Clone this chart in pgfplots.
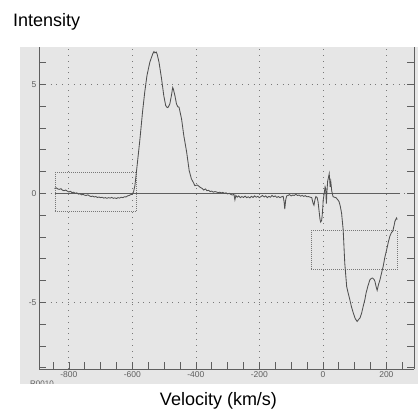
\documentclass[border=0pt]{standalone}
\usepackage{pgfplots}
\pgfplotsset{compat=1.18}
\usepackage{fontspec}
\setmainfont{Liberation Sans}
\definecolor{scan}{RGB}{230,230,230}
\definecolor{ink}{RGB}{80,80,80}
\definecolor{axisink}{RGB}{95,95,95}
\definecolor{dots}{RGB}{120,120,120}
\begin{document}
\begin{tikzpicture}[x=1pt,y=1pt]
\useasboundingbox (0,0) rectangle (418,412);
% scanned sheet
\fill[scan] (20,28) rectangle (418,365);
\begin{scope}
\clip (20,28) rectangle (418,365);
\node[anchor=north west,font=\fontsize{8}{8}\selectfont,text=axisink,inner sep=0pt] at (30,31.5) {R0010};
\end{scope}
\begin{axis}[
 at={(39pt,43pt)},anchor=south west,
 width=375pt,height=322pt,scale only axis,
 xmin=-894,xmax=287,ymin=-8.06,ymax=6.71,
 axis x line*=bottom,axis y line*=box,
 axis line style={axisink,line width=0.7pt},
 xtick={-800,-600,-400,-200,0,200},
 minor xtick={-850,-800,...,250},
 ytick={-5,0,5},
 minor ytick={-8,-7,...,6},
 yticklabel pos=left,
 major tick length=7pt,minor tick length=7pt,
 tick style={axisink,line width=0.6pt},
 tick align=inside,
 grid=major,
 major grid style={dots,line width=0.7pt,dash pattern=on 0.8pt off 5pt},
 /pgf/number format/assume math mode=true,
 tick label style={font=\fontsize{8.5}{9}\selectfont,text=axisink},
 xticklabel style={yshift=1pt},
 yticklabel style={xshift=1pt},
]
% baseline
\addplot[axisink,line width=0.8pt] coordinates {(-845,0) (242,0)};
% boxes
\addplot[dots,line width=0.7pt,dash pattern=on 0.8pt off 1.2pt] coordinates {(-844,-0.83) (-587,-0.83) (-587,0.97) (-844,0.97) (-844,-0.83)};
\addplot[dots,line width=0.7pt,dash pattern=on 0.8pt off 1.2pt] coordinates {(-36,-3.5) (234,-3.5) (234,-1.7) (-36,-1.7) (-36,-3.5)};
% spectrum
\addplot[ink,line width=0.85pt] coordinates {
(-845,0.22) (-840,0.25) (-835,0.2) (-830,0.18) (-825,0.21) (-820,0.14) (-815,0.12)
(-810,0.15) (-805,0.1) (-800,0.06) (-795,0.09) (-790,0.03) (-785,0.05) (-780,0.0)
(-775,0.02) (-770,-0.04) (-765,-0.02) (-760,-0.07) (-755,-0.05) (-750,-0.09) (-745,-0.1)
(-740,-0.07) (-735,-0.12) (-730,-0.15) (-725,-0.13) (-720,-0.17) (-715,-0.15) (-710,-0.19)
(-705,-0.17) (-700,-0.2) (-695,-0.18) (-690,-0.22) (-685,-0.2) (-680,-0.23) (-675,-0.2)
(-670,-0.22) (-665,-0.19) (-660,-0.23) (-655,-0.21) (-650,-0.24) (-645,-0.2) (-640,-0.22)
(-635,-0.18) (-630,-0.2) (-625,-0.16) (-620,-0.17) (-615,-0.12) (-610,-0.1) (-605,-0.06)
(-600,-0.04) (-596,0.08) (-592,0.35) (-585,1.27) (-576,2.5) (-568,3.72) (-561,4.64)
(-554,5.4) (-545,6.01) (-536,6.39) (-532,6.5) (-529,6.44) (-525,6.48) (-522,6.39)
(-516,6.01) (-508,5.25) (-501,4.48) (-495,4.02) (-490,3.93) (-487,3.95) (-482,4.1)
(-477,4.48) (-473,4.85) (-471,4.79) (-466,4.48) (-461,4.1) (-457,3.97) (-453,3.95)
(-445,3.41) (-438,2.65) (-429,1.89) (-421,1.04) (-414,0.66) (-408,0.5) (-403,0.35)
(-395,0.38) (-387,0.28) (-380,0.22) (-375,0.15) (-370,0.2) (-365,0.12) (-360,0.14)
(-355,0.08) (-350,0.1) (-345,0.05) (-340,0.08) (-335,0.06) (-330,0.03) (-325,0.05)
(-320,0.02) (-315,0.04) (-310,0.0) (-305,0.02) (-300,-0.03) (-295,0.0) (-290,-0.05)
(-285,-0.08) (-280,-0.05) (-277,-0.3) (-274,-0.1) (-270,-0.18) (-265,-0.12) (-260,-0.2)
(-255,-0.15) (-250,-0.19) (-245,-0.13) (-240,-0.2) (-235,-0.16) (-230,-0.21) (-225,-0.14)
(-220,-0.19) (-215,-0.12) (-210,-0.18) (-205,-0.14) (-200,-0.2) (-195,-0.15) (-190,-0.1)
(-185,-0.17) (-180,-0.12) (-175,-0.2) (-170,-0.14) (-165,-0.18) (-160,-0.1) (-155,-0.16)
(-150,-0.12) (-145,-0.19) (-140,-0.15) (-135,-0.2) (-130,-0.16) (-125,-0.14) (-122,-0.4)
(-120,-0.72) (-117,-0.3) (-114,-0.12) (-110,-0.1) (-105,-0.06) (-100,-0.12) (-95,-0.08)
(-90,-0.1) (-85,-0.05) (-80,-0.1) (-75,-0.08) (-70,-0.13) (-65,-0.1) (-60,-0.14)
(-55,-0.11) (-50,-0.16) (-45,-0.15) (-40,-0.18) (-35,-0.2) (-31,-0.45) (-28,-0.55)
(-25,-0.3) (-22,-0.15) (-18,-0.2) (-15,-0.4) (-12,-0.8) (-9,-1.2) (-7,-1.32) (-4,-1.25)
(-2,-1.0) (0,-0.6) (1,-0.32) (4,-0.03) (7,0.3) (9,0.2) (11,-0.47) (13,0.1) (15,0.55)
(18,0.75) (20,0.9) (22,0.5) (23,0.3) (25,0.53) (28,0.1) (32,-0.15) (36,-0.18) (41,-0.2)
(46,-0.28) (51,-0.38) (55,-0.6) (59,-0.92) (64,-1.68) (69,-3.21) (75,-4.28) (80,-4.6)
(85,-4.89) (90,-5.2) (96,-5.5) (102,-5.75) (108,-5.88) (112,-5.8) (117,-5.72) (122,-5.5)
(127,-5.19) (132,-4.9) (136,-4.58) (142,-4.25) (148,-3.97) (153,-3.9) (157,-3.89)
(161,-3.95) (164,-4.04) (168,-4.3) (171,-4.45) (175,-4.2) (180,-3.96) (185,-3.65)
(190,-3.35) (195,-2.95) (201,-2.58) (206,-2.25) (211,-1.97) (216,-1.8) (220,-1.74)
(224,-1.5) (227,-1.28) (232,-1.13) (234,-1.2)
};
\end{axis}
\node[anchor=base west,font=\fontsize{18}{20}\selectfont,inner sep=0pt] at (13,385) {Intensity};
\node[anchor=base,font=\fontsize{18}{20}\selectfont,inner sep=0pt] at (218.5,6) {Velocity (km/s)};
\end{tikzpicture}
\end{document}
